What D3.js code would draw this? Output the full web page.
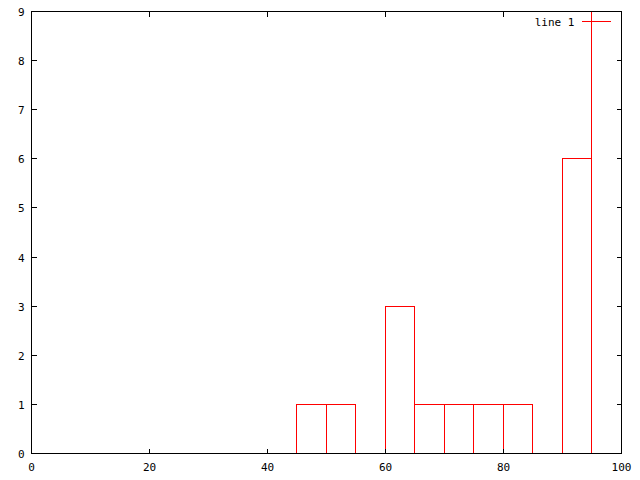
<!DOCTYPE html>
<html>
<head>
<meta charset="utf-8">
<script src="https://cdn.jsdelivr.net/npm/d3@7"></script>
<style>
  body { margin: 0; background: #fff; }
  text { font-family: "DejaVu Sans Mono", monospace; font-size: 11px; fill: #000; }
</style>
</head>
<body>
<div class="chart"></div>
<script>
// histogram bins (left edge) and counts
const binStarts = [45, 50, 60, 65, 70, 75, 80, 90, 95];
const counts    = [1, 1, 3, 1, 1, 1, 1, 6, 10];
const binWidth = 5;
const xTicks = [0, 20, 40, 60, 80, 100];
const yTicks = [0, 1, 2, 3, 4, 5, 6, 7, 8, 9];
const seriesName = 'line 1';

const svg_width = 640, svg_height = 480;
const margin = {top: 11, right: 19, bottom: 27, left: 31};
const w = svg_width - margin.left - margin.right;
const h = svg_height - margin.top - margin.bottom;

const svg = d3.select('.chart').append('svg')
  .attr('width', svg_width).attr('height', svg_height)
  .attr('shape-rendering', 'crispEdges');

const g = svg.append('g').attr('transform', `translate(${margin.left + 0.5},${margin.top + 0.5})`);

const x = d3.scaleLinear().domain([0, 100]).range([0, w]);
const y = d3.scaleLinear().domain([0, 9]).range([h, 0]);

g.append('clipPath').attr('id', 'clip')
  .append('rect').attr('x', 0).attr('y', 0).attr('width', w).attr('height', h);

// boxes
g.append('g').attr('clip-path', 'url(#clip)')
  .selectAll('rect').data(binStarts).enter()
  .append('rect')
  .attr('x', d => Math.floor(x(d)))
  .attr('y', (d, i) => Math.round(y(counts[i])))
  .attr('width', d => Math.floor(x(d + binWidth)) - Math.floor(x(d)))
  .attr('height', (d, i) => Math.round(y(0)) - Math.round(y(counts[i])))
  .style('fill', 'none').style('stroke', '#ff0000');

// ticks (all four sides, inward)
const tl = 5;
const tickG = g.append('g').style('stroke', '#000');
xTicks.forEach(t => {
  const px = Math.floor(x(t));
  tickG.append('line').attr('x1', px).attr('x2', px).attr('y1', h).attr('y2', h - tl);
  tickG.append('line').attr('x1', px).attr('x2', px).attr('y1', 0).attr('y2', tl);
  g.append('text').attr('x', px).attr('y', h + 17).attr('text-anchor', 'middle').text(t);
});
yTicks.forEach(t => {
  const py = Math.round(y(t));
  tickG.append('line').attr('x1', 0).attr('x2', tl).attr('y1', py).attr('y2', py);
  tickG.append('line').attr('x1', w).attr('x2', w - tl).attr('y1', py).attr('y2', py);
  g.append('text').attr('x', -7).attr('y', py + 4).attr('text-anchor', 'end').text(t);
});

// border
g.append('rect').attr('x', 0).attr('y', 0).attr('width', w).attr('height', h)
  .style('fill', 'none').style('stroke', '#000');

// key
g.append('text').attr('x', 543).attr('y', 14).attr('text-anchor', 'end').text(seriesName);
g.append('line').attr('x1', 550).attr('x2', 579).attr('y1', 10).attr('y2', 10)
  .style('stroke', '#ff0000');
</script>
</body>
</html>
